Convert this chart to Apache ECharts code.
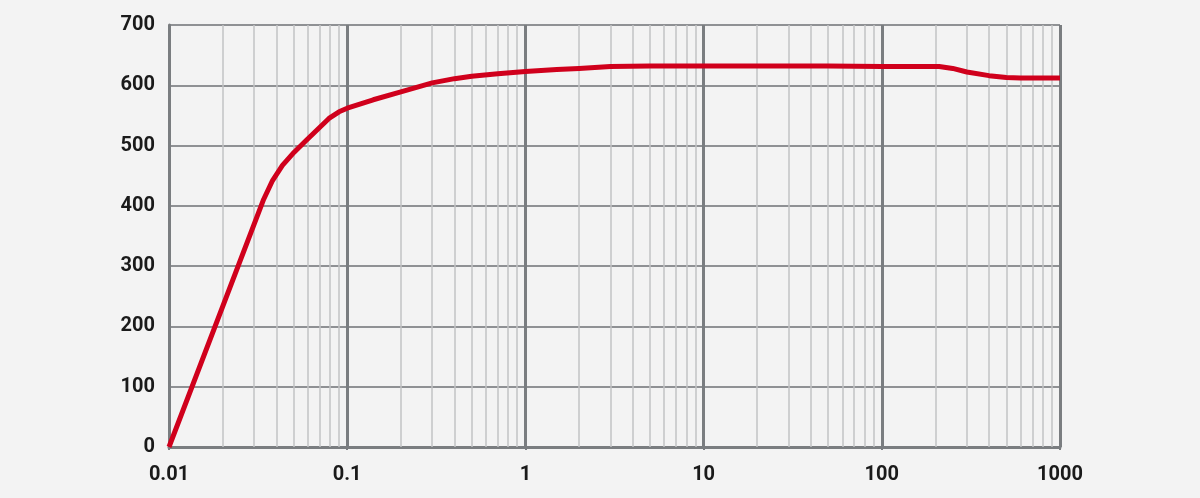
<!DOCTYPE html>
<html>
<head>
<meta charset="utf-8">
<style>
  html, body { margin: 0; padding: 0; background: #f3f3f3; }
  #chart { width: 1200px; height: 498px; }
</style>
<script src="https://cdn.jsdelivr.net/npm/echarts@6/dist/echarts.min.js"></script>
</head>
<body>
<div id="chart"></div>
<script>
// curve: [x, y]
var curveX = [0.01, 0.034, 0.0381, 0.0433, 0.0504, 0.0586, 0.07, 0.079, 0.09, 0.1, 0.14, 0.2, 0.3, 0.4, 0.5, 0.7, 1, 1.5, 2, 3, 5, 10, 50, 100, 210, 250, 300, 400, 500, 600, 1000];
var curveY = [0, 411, 442, 467, 489, 508, 530, 545, 556, 562, 576, 589, 604, 611, 615, 619, 623, 626, 628, 631, 632, 632, 632, 631, 631, 628, 622, 616, 613, 612, 612];

// minor grid positions (2..9 of each decade)
var decades = [0.01, 0.1, 1, 10, 100];
var minorSteps = [2, 3, 4, 5, 6, 7, 8, 9];

var curve = curveX.map(function (x, i) { return [x, curveY[i]]; });

var minorLines = [];
decades.forEach(function (d) {
  minorSteps.forEach(function (s) {
    minorLines.push({ xAxis: +(d * s).toPrecision(3) });
  });
});

var labelFont = {
  fontFamily: 'Roboto',
  fontWeight: 'bold',
  fontSize: 20,
  color: '#1a1a1a'
};

var chart = echarts.init(document.getElementById('chart'));
chart.setOption({
  backgroundColor: '#f3f3f3',
  animation: false,
  grid: { left: 169, right: 140, top: 25, bottom: 51 },
  xAxis: {
    type: 'log',
    logBase: 10,
    min: 0.01,
    max: 1000,
    axisLine: { show: true, lineStyle: { color: '#7a7d80', width: 3 } },
    axisTick: { show: true, length: 3, lineStyle: { color: '#7a7d80', width: 2 } },
    axisLabel: Object.assign({
      margin: 18,
      formatter: function (v) { return String(+v.toPrecision(3)); }
    }, labelFont),
    splitLine: { show: true, lineStyle: { color: '#7a7d80', width: 3 } }
  },
  yAxis: {
    type: 'value',
    min: 0,
    max: 700,
    interval: 100,
    axisLine: { show: true, lineStyle: { color: '#7a7d80', width: 3 } },
    axisTick: { show: false },
    axisLabel: Object.assign({ margin: 14 }, labelFont),
    splitLine: { show: true, lineStyle: { color: '#8f9194', width: 2 } }
  },
  series: [
    {
      type: 'line',
      data: [],
      silent: true,
      z: 1,
      markLine: {
        silent: true,
        symbol: ['none', 'none'],
        label: { show: false },
        lineStyle: { color: '#c2c3c5', width: 1.5, type: 'solid' },
        data: minorLines
      }
    },
    {
      type: 'line',
      data: curve,
      symbol: 'none',
      smooth: false,
      z: 5,
      lineStyle: { color: '#d0001c', width: 5, join: 'round' }
    }
  ]
});
</script>
</body>
</html>
